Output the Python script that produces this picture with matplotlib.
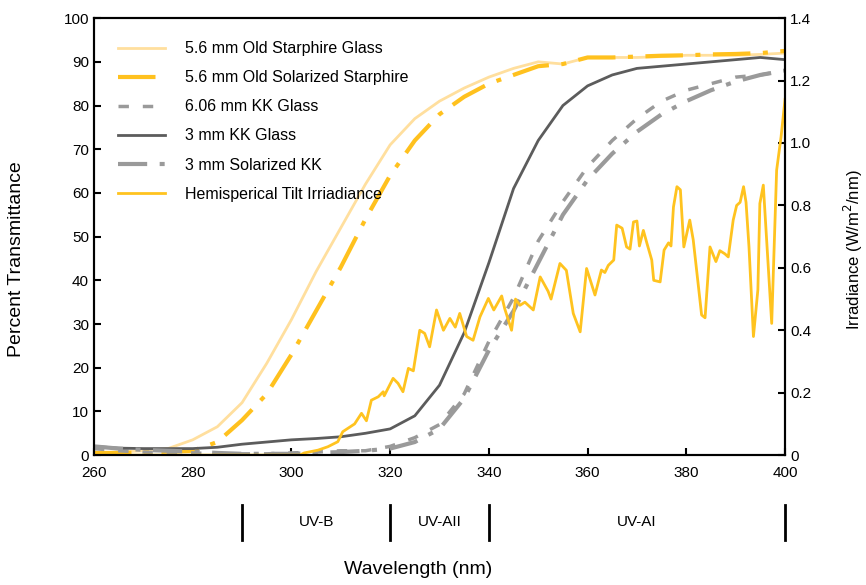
import matplotlib.pyplot as plt
from matplotlib.transforms import blended_transform_factory

plt.rcParams['font.family'] = ['Liberation Sans Narrow', 'Liberation Sans', 'DejaVu Sans']

# transmittance curves (%)
wl = [260, 265, 270, 275, 280, 285, 290, 295, 300, 305, 310, 315, 320, 325, 330,
      335, 340, 345, 350, 355, 360, 365, 370, 375, 380, 385, 390, 395, 400]
starphire = [0.5, 0.7, 1.0, 1.5, 3.5, 6.5, 12, 21, 31, 42, 52, 62, 71, 77, 81,
             84, 86.5, 88.5, 90, 89.5, 91, 91, 91, 91.2, 91.5, 91.5, 91.5, 91.7, 92]
sol_starphire = [0.5, 0.5, 0.6, 0.8, 1.0, 3.0, 8, 14, 23, 33, 43, 54, 64, 72, 78,
                 82, 85, 87, 89, 89.5, 91, 91, 91.2, 91.4, 91.5, 91.7, 91.8, 92, 92.5]
kk_606 = [1.5, 1.0, 0.7, 0.5, 0.5, 0.3, 0.3, 0.3, 0.5, 0.7, 1.0, 1.0, 2.0, 4, 7,
          14, 26, 36, 49, 58, 66, 72, 77, 81, 83.5, 85, 86.5, 87, 88]
kk_3 = [2.0, 1.6, 1.5, 1.5, 1.5, 1.8, 2.5, 3.0, 3.5, 3.8, 4.2, 5.0, 6.0, 9, 16,
        28, 44, 61, 72, 80, 84.5, 87, 88.5, 89, 89.5, 90, 90.5, 91, 90.5]
sol_kk_3 = [2.0, 1.5, 1.2, 1.0, 0.8, 0.5, 0.3, 0.3, 0.3, 0.5, 0.7, 1.0, 1.5, 3, 6,
            13, 24, 33, 44, 55, 63, 69, 74, 78, 81, 83.5, 85.5, 87, 88]

# hemispherical tilt irradiance (W/m2/nm)
irr_wl = [260, 270, 280, 290, 300, 301.7, 302.6, 305.4, 307.4, 309.4, 310.4, 312.8,
          314.2, 315.2, 316.2, 317.6, 318.6, 318.8, 320.6, 321.6, 322.6, 323.7, 324.7,
          326, 327, 328, 329.4, 330.8, 332.1, 333.2, 334.1, 335.5, 336.8, 338.2, 339.9,
          341, 342.6, 343.2, 344.6, 345.4, 346.3, 347.3, 349, 350.4, 352, 352.6, 354.4,
          355.7, 357.1, 358.5, 359.8, 361.5, 362.8, 363.5, 364.2, 365.3, 365.9, 367,
          367.9, 368.6, 369.3, 370, 370.5, 371.3, 372, 373, 373.4, 374.7, 375.5, 376.4,
          376.9, 377.4, 378.1, 378.8, 379.5, 380.7, 381.4, 383.1, 383.8, 384.8, 386,
          386.8, 387.8, 388.5, 389.5, 390.2, 390.9, 391.6, 392.1, 392.7, 393.6, 394.5,
          394.9, 395.6, 397.3, 398.3, 399.2, 400]
irr = [0.0, 0.0, 0.0, 0.0, 0.0, 0.0, 0.007, 0.016, 0.027, 0.043, 0.075, 0.10,
       0.134, 0.11, 0.176, 0.187, 0.203, 0.19, 0.246, 0.23, 0.203, 0.278, 0.27,
       0.40, 0.39, 0.347, 0.465, 0.40, 0.438, 0.41, 0.454, 0.38, 0.368, 0.443, 0.502,
       0.465, 0.51, 0.47, 0.40, 0.50, 0.48, 0.49, 0.465, 0.571, 0.525, 0.50, 0.614,
       0.592, 0.454, 0.395, 0.598, 0.513, 0.593, 0.585, 0.608, 0.625, 0.737, 0.727,
       0.667, 0.66, 0.747, 0.75, 0.67, 0.72, 0.68, 0.625, 0.56, 0.555, 0.657, 0.68,
       0.67, 0.795, 0.86, 0.85, 0.667, 0.753, 0.69, 0.449, 0.44, 0.667, 0.62,
       0.655, 0.645, 0.635, 0.753, 0.80, 0.81, 0.86, 0.81, 0.667, 0.38, 0.53,
       0.806, 0.865, 0.422, 0.913, 1.02, 1.14]

bands = [290, 320, 340, 400]
band_names = ['UV-B', 'UV-AII', 'UV-AI']

fig, ax = plt.subplots(figsize=(8.66, 5.85), dpi=100)
fig.subplots_adjust(left=0.1085, right=0.9065, top=0.969, bottom=0.222)
ax2 = ax.twinx()

l1, = ax.plot(wl, starphire, color='#FFDF9E', lw=2, label='5.6 mm Old Starphire Glass')
l2, = ax.plot(wl, sol_starphire, color='#FFC11E', lw=3, dashes=[9, 3, 1.2, 3],
              label='5.6 mm Old Solarized Starphire')
l3, = ax.plot(wl, kk_606, color='#9A9A9A', lw=2.5, dashes=[3, 4], label='6.06 mm KK Glass')
l4, = ax.plot(wl, kk_3, color='#5C5C5C', lw=2, label='3 mm KK Glass')
l5, = ax.plot(wl, sol_kk_3, color='#9A9A9A', lw=3, dashes=[7, 3, 1.2, 3],
              label='3 mm Solarized KK')
l6, = ax2.plot(irr_wl, irr, color='#FFC31F', lw=2, label='Hemisperical Tilt Irriadiance')

ax.set_xlim(260, 400)
ax.set_ylim(0, 100)
ax2.set_ylim(0, 1.4)
ax.set_xticks(range(260, 401, 20))
ax.set_yticks(range(0, 101, 10))
ax2.set_yticks([0, 0.2, 0.4, 0.6, 0.8, 1.0, 1.2, 1.4])
ax2.set_yticklabels(['0', '0.2', '0.4', '0.6', '0.8', '1.0', '1.2', '1.4'])

for a in (ax, ax2):
    a.tick_params(direction='in', length=5, width=1.5, labelsize=11)
    for s in a.spines.values():
        s.set_linewidth(1.5)
ax.tick_params(axis='x', pad=8)

ax.set_ylabel('Percent Transmittance', fontsize=14)
ax.yaxis.set_label_coords(-0.1, 0.449)
ax2.set_ylabel('Irradiance (W/m$^2$/nm)', fontsize=12)
ax2.yaxis.set_label_coords(1.082, 0.469)

ax.legend(handles=[l1, l2, l3, l4, l5, l6], loc='upper left', frameon=False,
          fontsize=11.5, handlelength=2.95, handletextpad=1.25, labelspacing=0.88,
          borderpad=0, borderaxespad=0, bbox_to_anchor=(0.035, 0.947))

# UV band markers below the axis
tr = blended_transform_factory(ax.transData, ax.transAxes)
for b in bands:
    ax.plot([b, b], [-0.114, -0.195], color='black', lw=2, transform=tr, clip_on=False)
for i, name in enumerate(band_names):
    ax.text((bands[i] + bands[i + 1]) / 2, -0.154, name, transform=tr,
            ha='center', va='center', fontsize=11)
ax.text(0.469, -0.262, 'Wavelength (nm)', transform=ax.transAxes, ha='center',
        va='center', fontsize=14)

fig.savefig('out.png')
